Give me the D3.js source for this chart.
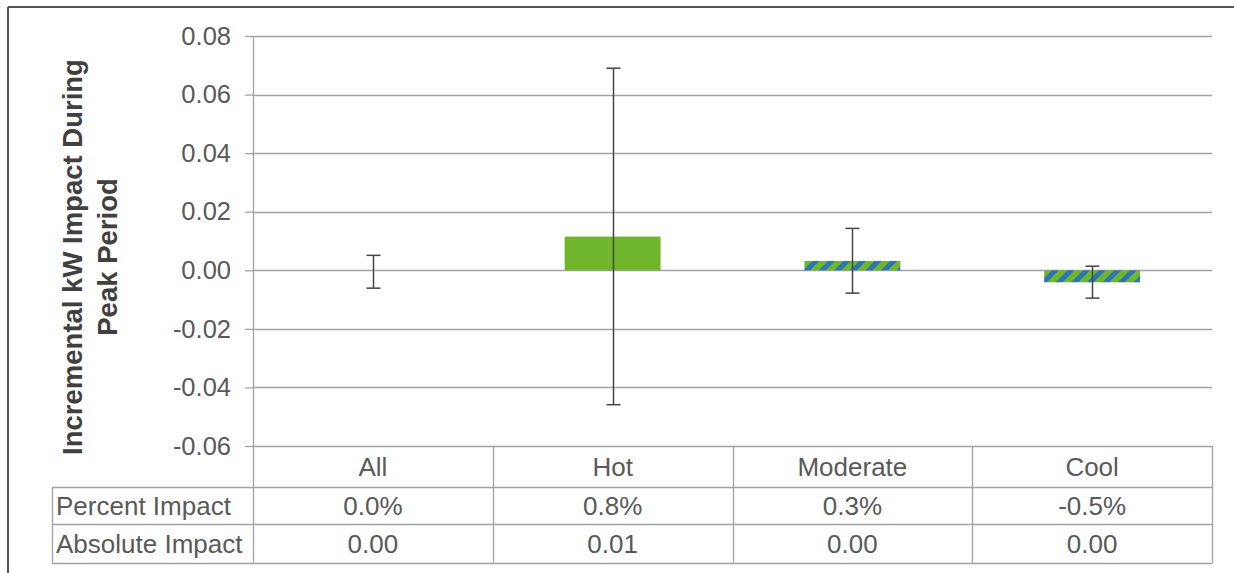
<!DOCTYPE html>
<html>
<head>
<meta charset="utf-8">
<script src="https://cdn.jsdelivr.net/npm/d3@7"></script>
<style>
  html, body { margin: 0; padding: 0; background: #fff; }
  svg { display: block; font-family: "Liberation Sans", Arial, sans-serif; }
</style>
</head>
<body>
<svg id="chart" width="1234" height="573"></svg>
<script>
// ---- data ----
const categories = ["All", "Hot", "Moderate", "Cool"];
const impact     = [0.0000, 0.0115, 0.0032, -0.0041];
const errLow     = [-0.0061, -0.0459, -0.0078, -0.0095];
const errHigh    = [0.0051, 0.0690, 0.0143, 0.0014];
const significant = [true, true, false, false];
const percentImpact  = ["0.0%", "0.8%", "0.3%", "-0.5%"];
const absoluteImpact = ["0.00", "0.01", "0.00", "0.00"];
const rowLabels = ["Percent Impact", "Absolute Impact"];
const yTicks = [-0.06, -0.04, -0.02, 0.00, 0.02, 0.04, 0.06, 0.08];
const yTitle = ["Incremental kW Impact During", "Peak Period"];

// ---- layout ----
const svg = d3.select("#chart");
const plotL = 253, plotR = 1212, plotT = 36, plotB = 446;
const tableL = 52;
const rowLines = [487, 524, 563];

const x = d3.scaleBand().domain(categories).range([plotL, plotR])
  .paddingInner(0.6).paddingOuter(0.3);
const xCell = d3.scaleBand().domain(categories).range([plotL, plotR]);
const y = d3.scaleLinear().domain([-0.06, 0.08]).range([plotB, plotT]);

const green = "#70b62c", blue = "#2e75b6";
const grid = "#a3a3a3", txt = "#595959";

// hatch pattern
const defs = svg.append("defs");
const pat = defs.append("pattern").attr("id", "hatch")
  .attr("patternUnits", "userSpaceOnUse").attr("width", 11).attr("height", 11)
  .attr("patternTransform", "rotate(45)");
pat.append("rect").attr("width", 11).attr("height", 11).attr("fill", green);
pat.append("rect").attr("width", 5).attr("height", 11).attr("fill", blue);

// outer frame
svg.append("line").attr("x1", 8).attr("x2", 8).attr("y1", 7).attr("y2", 573)
  .attr("stroke", "#555").attr("stroke-width", 2);
svg.append("line").attr("x1", 8).attr("x2", 1234).attr("y1", 7).attr("y2", 7)
  .attr("stroke", "#555").attr("stroke-width", 2);

// gridlines + y axis
const yAxis = d3.axisLeft(y).tickValues(yTicks).tickFormat(d3.format(".2f"))
  .tickSize(8).tickPadding(14);
const gy = svg.append("g").attr("transform", `translate(${plotL},0)`).call(yAxis);
gy.select(".domain").remove();
gy.selectAll(".tick line").attr("stroke", grid).attr("stroke-width", 1.3);
gy.selectAll(".tick text").attr("fill", txt).attr("font-size", 25.5)
  .attr("font-family", "'Liberation Sans', Arial, sans-serif")
  .text(d => d3.format(".2f")(d).replace("−", "-"));
svg.append("g").selectAll("line").data(yTicks).join("line")
  .attr("x1", plotL).attr("x2", plotR)
  .attr("y1", d => Math.round(y(d)) + 0.5).attr("y2", d => Math.round(y(d)) + 0.5)
  .attr("stroke", grid).attr("stroke-width", 1.3);

// bars
svg.append("g").selectAll("rect").data(categories).join("rect")
  .attr("x", d => x(d))
  .attr("width", x.bandwidth())
  .attr("y", (d, i) => y(Math.max(0, impact[i])))
  .attr("height", (d, i) => Math.abs(y(impact[i]) - y(0)))
  .attr("fill", (d, i) => significant[i] ? green : "url(#hatch)");

// error bars
const eb = svg.append("g").attr("stroke", "#454545").attr("stroke-width", 1.5);
categories.forEach((c, i) => {
  const cx = Math.round(x(c) + x.bandwidth() / 2) + 0.5;
  eb.append("line").attr("x1", cx).attr("x2", cx).attr("y1", y(errHigh[i])).attr("y2", y(errLow[i]));
  [errHigh[i], errLow[i]].forEach(v => {
    eb.append("line").attr("x1", cx - 7).attr("x2", cx + 7).attr("y1", y(v)).attr("y2", y(v));
  });
});

// y axis line (continues into table)
svg.append("line").attr("x1", plotL + 0.5).attr("x2", plotL + 0.5).attr("y1", plotT).attr("y2", rowLines[2])
  .attr("stroke", grid).attr("stroke-width", 1.3);

// data table
const tbl = svg.append("g").attr("stroke", grid).attr("stroke-width", 1.3);
rowLines.forEach(ry => {
  tbl.append("line").attr("x1", tableL).attr("x2", plotR).attr("y1", ry + 0.5).attr("y2", ry + 0.5);
});
tbl.append("line").attr("x1", tableL + 0.5).attr("x2", tableL + 0.5).attr("y1", rowLines[0]).attr("y2", rowLines[2]);
categories.forEach(c => {
  const xr = xCell(c) + xCell.bandwidth();
  tbl.append("line").attr("x1", Math.round(xr) + 0.5).attr("x2", Math.round(xr) + 0.5)
    .attr("y1", plotB).attr("y2", rowLines[2]);
});

const tfs = 26;
const tt = svg.append("g").attr("fill", txt).attr("font-size", tfs);
const rowsY = [(plotB + rowLines[0]) / 2, (rowLines[0] + rowLines[1]) / 2, (rowLines[1] + rowLines[2]) / 2];
tt.selectAll("text.cat").data(categories).join("text").attr("class", "cat")
  .attr("x", d => xCell(d) + xCell.bandwidth() / 2).attr("y", rowsY[0])
  .attr("text-anchor", "middle").attr("dy", "0.36em").text(d => d);
tt.selectAll("text.pct").data(percentImpact).join("text").attr("class", "pct")
  .attr("x", (d, i) => xCell(categories[i]) + xCell.bandwidth() / 2).attr("y", rowsY[1])
  .attr("text-anchor", "middle").attr("dy", "0.36em").text(d => d);
tt.selectAll("text.abs").data(absoluteImpact).join("text").attr("class", "abs")
  .attr("x", (d, i) => xCell(categories[i]) + xCell.bandwidth() / 2).attr("y", rowsY[2])
  .attr("text-anchor", "middle").attr("dy", "0.36em").text(d => d);
tt.selectAll("text.row").data(rowLabels).join("text").attr("class", "row")
  .attr("x", tableL + 4).attr("y", (d, i) => rowsY[i + 1])
  .attr("dy", "0.36em").text(d => d);

// y title
const title = svg.append("text")
  .attr("transform", `translate(82,257) rotate(-90)`)
  .attr("text-anchor", "middle").attr("font-weight", "bold").attr("font-size", 27.5)
  .attr("fill", "#404040");
title.selectAll("tspan").data(yTitle).join("tspan")
  .attr("x", 0).attr("dy", (d, i) => i === 0 ? 0 : 35).text(d => d);
</script>
</body>
</html>
